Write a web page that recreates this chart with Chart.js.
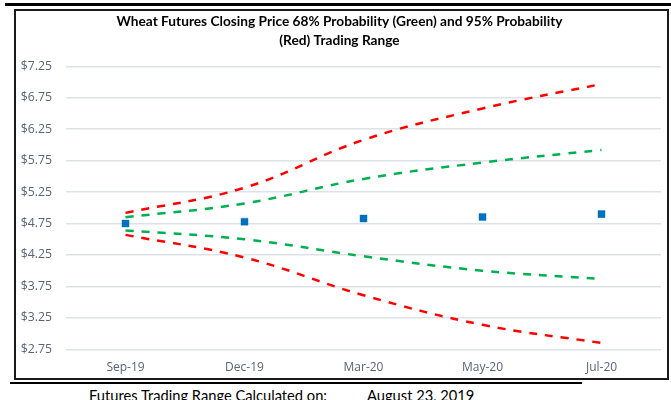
<!DOCTYPE html>
<html>
<head>
<meta charset="utf-8">
<script src="https://cdn.jsdelivr.net/npm/chart.js@4.4.1/dist/chart.umd.min.js"></script>
<style>
  body { margin: 0; background: #fff; width: 671px; height: 400px; overflow: hidden; position: relative; }
  #topLine { position: absolute; left: 5px; right: 0; top: 3px; height: 3px; background: #000; }
  #box { position: absolute; left: 14px; top: 9px; width: 655px; height: 371px; border: 2px solid #1a1a1a; box-sizing: border-box; }
  #bottomLine { position: absolute; left: 10px; top: 382px; width: 572px; height: 2px; background: #000; }
  .footer { position: absolute; top: 387px; font: 14.7px Lato, sans-serif; line-height: 17px; color: #000; white-space: pre; }
</style>
</head>
<body>
<div id="topLine"></div>
<div id="box"><canvas id="grafico" width="651" height="367"></canvas></div>
<div id="bottomLine"></div>
<div class="footer" style="left: 89px;">Futures Trading Range Calculated on:</div>
<div class="footer" style="left: 367px;">August 23, 2019</div>
<script>
const meses = ["Sep-19", "Dec-19", "Mar-20", "May-20", "Jul-20"];
const precio = [4.75, 4.78, 4.83, 4.855, 4.90];
const rojoArriba = [4.92, 5.32, 6.08, 6.58, 6.97];
const verdeArriba = [4.85, 5.07, 5.46, 5.72, 5.92];
const verdeAbajo = [4.64, 4.50, 4.23, 4.00, 3.87];
const rojoAbajo = [4.57, 4.21, 3.61, 3.14, 2.85];
const titulo = ["Wheat Futures Closing Price 68% Probability (Green) and 95% Probability", "(Red) Trading Range"];

const tickColor = '#586477';

function linea(data, color) {
  return {
    data: data,
    type: 'line',
    borderColor: color,
    backgroundColor: color,
    borderWidth: 2.5,
    borderDash: [8, 8],
    pointRadius: 0,
    tension: 0.4,
    fill: false,
    order: 2
  };
}

let ctx = document.getElementById("grafico").getContext('2d');

var chart = new Chart(ctx, {
  type: 'line',
  data: {
    labels: meses,
    datasets: [
      {
        label: 'Close',
        data: precio,
        showLine: false,
        pointStyle: 'rect',
        pointRadius: 5,
        pointHoverRadius: 5,
        backgroundColor: '#0070C0',
        borderColor: 'rgba(0,112,192,0.35)',
        borderWidth: 1,
        order: 1
      },
      linea(rojoArriba, '#FF0000'),
      linea(verdeArriba, '#00B050'),
      linea(verdeAbajo, '#00B050'),
      linea(rojoAbajo, '#FF0000')
    ]
  },
  options: {
    responsive: false,
    animation: false,
    layout: { padding: { left: 0, right: 4, top: 0, bottom: 0 } },
    plugins: {
      legend: { display: false },
      tooltip: { enabled: false },
      title: {
        display: true,
        text: titulo,
        color: '#000',
        font: { family: "Lato, sans-serif", size: 13.7, weight: 'bold', lineHeight: 1.4 },
        padding: { top: 0.5, bottom: 16.5 }
      }
    },
    scales: {
      x: {
        offset: true,
        grid: { display: false, drawTicks: false },
        border: { display: false },
        ticks: { color: tickColor, padding: 11, font: { family: "'Open Sans', sans-serif", size: 12 } },
        afterFit: function (scale) { scale.height = 28.7; }
      },
      y: {
        min: 2.75,
        max: 7.25,
        grid: { color: '#dde1e8', lineWidth: 1.5, drawTicks: false },
        border: { display: false },
        ticks: {
          stepSize: 0.5,
          color: tickColor,
          padding: 14,
          font: { family: "'Open Sans', sans-serif", size: 12.3 },
          callback: function (v) { return '$' + v.toFixed(2); }
        },
        afterFit: function (scale) { scale.width = 50; }
      }
    }
  }
});
</script>
</body>
</html>
